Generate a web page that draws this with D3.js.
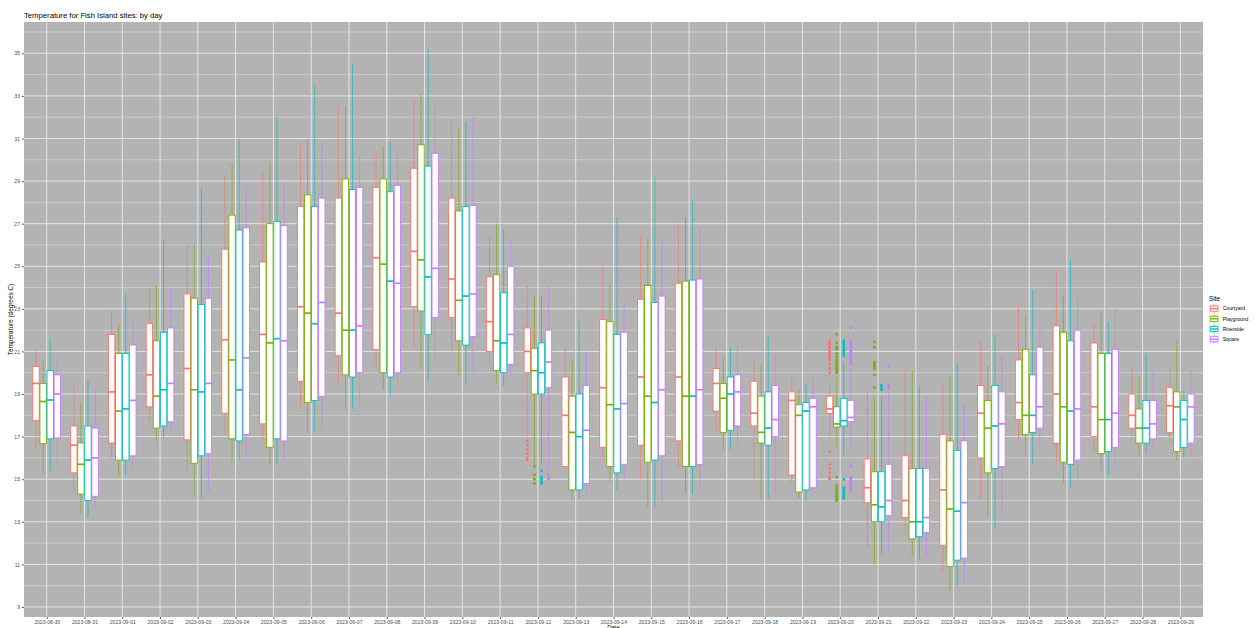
<!DOCTYPE html>
<html>
<head>
<meta charset="utf-8">
<script src="https://cdn.jsdelivr.net/npm/d3@7"></script>
<style>
  body { margin: 0; background: #fff; }
  svg { display: block; font-family: "Liberation Sans", Arial, sans-serif; }
</style>
</head>
<body>
<svg id="chart" width="1255" height="628"></svg>
<script>
/*************************************/
/*               Data                */
/*************************************/
const dates = [
  "2023-08-30", "2023-08-31", "2023-09-01", "2023-09-02", "2023-09-03", "2023-09-04",
  "2023-09-05", "2023-09-06", "2023-09-07", "2023-09-08", "2023-09-09", "2023-09-10",
  "2023-09-11", "2023-09-12", "2023-09-13", "2023-09-14", "2023-09-15", "2023-09-16",
  "2023-09-17", "2023-09-18", "2023-09-19", "2023-09-20", "2023-09-21", "2023-09-22",
  "2023-09-23", "2023-09-24", "2023-09-25", "2023-09-26", "2023-09-27", "2023-09-28",
  "2023-09-29"
];

const sites = ["Courtyard", "Playground", "Riverside", "Square"];
const siteColors = ["#F8766D", "#7CAE00", "#00BFC4", "#C77CFF"];

// [lower whisker, q1, median, q3, upper whisker] per date
const courtyard = [
  [16.4, 17.75, 19.5, 20.3, 21.1], [14.4, 15.3, 16.6, 17.5, 19.4], [16.0, 16.7, 19.1, 21.8, 22.9],
  [17.7, 18.4, 19.9, 22.3, 24.0], [15.4, 16.85, 20.2, 23.7, 26.0], [17.1, 18.1, 21.55, 25.8, 29.2],
  [16.8, 17.6, 21.8, 25.2, 29.5], [18.3, 19.6, 23.1, 27.8, 30.8], [19.4, 20.8, 22.8, 28.2, 32.5],
  [20.3, 21.1, 25.4, 28.7, 30.3], [21.2, 23.1, 25.7, 29.6, 32.8], [21.0, 22.6, 24.4, 28.2, 31.9],
  [20.4, 21.0, 22.4, 24.5, 26.4], [17.0, 20.0, 21.0, 22.1, 24.1], [15.3, 15.6, 18.0, 19.8, 21.2],
  [15.9, 16.5, 19.3, 22.5, 25.1], [15.0, 16.6, 19.8, 23.45, 26.5], [15.5, 16.8, 19.8, 24.2, 27.0],
  [17.3, 18.2, 19.5, 20.2, 21.2], [14.9, 17.5, 18.1, 19.6, 20.5], [14.8, 15.2, 18.7, 19.1, 19.8],
  [17.0, 18.1, 18.3, 18.9, 19.4], [11.8, 13.9, 14.6, 15.95, 19.1], [12.4, 13.2, 14.0, 16.1, 20.1],
  [10.7, 11.9, 14.5, 17.1, 19.5], [14.05, 16.0, 18.1, 19.4, 21.5], [16.8, 17.8, 18.6, 20.6, 23.1],
  [15.7, 16.7, 19.0, 22.2, 24.8], [16.3, 17.0, 18.4, 21.4, 22.3], [16.9, 17.4, 18.0, 19.0, 20.3],
  [16.7, 17.2, 18.45, 19.3, 20.3]
];

const playground = [
  [15.3, 16.67, 18.65, 19.5, 20.57], [13.4, 14.3, 15.7, 16.7, 18.6], [15.1, 15.9, 18.2, 20.9, 22.3],
  [16.8, 17.4, 18.9, 21.5, 24.1], [14.2, 15.75, 19.2, 23.5, 26.0], [15.8, 16.9, 20.6, 27.4, 29.8],
  [15.7, 16.5, 21.4, 27.0, 29.8], [17.2, 18.6, 22.8, 28.35, 30.9], [18.3, 19.9, 22.0, 29.1, 32.5],
  [19.2, 20.0, 25.1, 29.1, 30.6], [20.2, 22.9, 25.3, 30.7, 33.1], [19.9, 21.5, 23.4, 27.6, 31.5],
  [19.5, 20.1, 21.5, 24.6, 27.0], [15.7, 19.0, 20.1, 21.15, 23.6], [14.0, 14.5, 17.2, 18.9, 20.6],
  [14.9, 15.6, 18.5, 22.4, 24.2], [13.7, 15.8, 18.9, 24.1, 26.3], [14.3, 15.6, 18.9, 24.3, 27.3],
  [16.4, 17.2, 18.8, 19.5, 20.7], [14.1, 16.7, 17.2, 18.9, 20.4], [14.1, 14.4, 18.0, 18.5, 19.2],
  [16.5, 17.45, 17.6, 18.4, 19.8], [11.0, 13.0, 13.8, 15.35, 18.9], [11.3, 12.2, 13.0, 15.5, 20.1],
  [9.8, 10.9, 13.6, 16.8, 19.8], [13.2, 15.3, 17.4, 18.7, 20.3], [16.1, 17.1, 18.0, 21.1, 22.7],
  [14.8, 15.8, 18.4, 21.9, 23.6], [15.4, 16.2, 17.8, 20.9, 22.9], [16.1, 16.7, 17.4, 18.3, 19.8],
  [15.9, 16.3, 18.4, 19.1, 21.5]
];

const riverside = [
  [15.3, 16.9, 18.72, 20.1, 21.6], [13.2, 14.0, 15.9, 17.5, 19.7], [15.2, 15.9, 18.3, 20.9, 23.7],
  [16.9, 17.5, 19.2, 21.9, 26.2], [14.1, 16.1, 19.1, 23.2, 28.7], [15.9, 16.8, 19.2, 26.7, 31.0],
  [15.7, 16.9, 21.6, 27.1, 32.0], [17.2, 18.7, 22.3, 27.8, 33.5], [18.3, 19.8, 22.0, 28.6, 34.5],
  [18.9, 19.8, 24.3, 28.5, 30.85], [19.6, 21.8, 24.5, 29.7, 35.2], [19.5, 21.3, 23.6, 27.8, 31.8],
  [19.4, 20.0, 21.4, 23.75, 26.7], [15.7, 19.0, 20.0, 21.4, 23.6], [14.1, 14.5, 17.0, 19.0, 22.5],
  [14.5, 15.3, 18.3, 21.8, 27.3], [13.7, 15.9, 18.6, 23.3, 29.2], [14.3, 15.6, 18.9, 24.35, 28.1],
  [16.4, 17.3, 19.0, 19.8, 21.2], [14.1, 16.6, 17.4, 19.1, 21.7], [14.0, 14.5, 18.2, 18.6, 19.5],
  [16.1, 17.5, 17.75, 18.8, 20.5], [11.5, 13.0, 13.7, 15.35, 18.9], [11.2, 12.3, 13.0, 15.5, 19.4],
  [9.96, 11.2, 13.5, 16.35, 20.5], [12.7, 15.5, 17.5, 19.4, 21.8], [15.7, 17.2, 18.0, 19.9, 23.9],
  [14.6, 15.7, 18.2, 21.5, 25.3], [15.2, 16.3, 17.8, 20.9, 22.4], [16.2, 16.7, 17.4, 18.7, 20.9],
  [16.0, 16.5, 17.8, 18.7, 19.2]
];

const square = [
  [15.7, 16.94, 19.0, 19.9, 20.7], [13.6, 14.2, 16.0, 17.4, 19.2], [15.4, 16.1, 18.7, 21.3, 22.6],
  [17.1, 17.7, 19.5, 22.1, 24.0], [14.4, 16.2, 19.5, 23.5, 25.5], [16.1, 17.1, 20.7, 26.8, 28.8],
  [15.9, 16.8, 21.5, 26.9, 28.9], [17.4, 18.9, 23.3, 28.2, 30.8], [18.4, 20.0, 22.2, 28.7, 30.2],
  [19.4, 20.0, 24.2, 28.8, 30.5], [20.4, 22.6, 24.9, 30.3, 32.7], [20.0, 21.7, 23.7, 27.85, 32.0],
  [19.9, 20.4, 21.8, 25.0, 26.2], [15.5, 19.3, 20.5, 22.0, 24.1], [14.4, 14.8, 17.3, 19.4, 21.0],
  [15.0, 15.7, 18.55, 21.9, 23.4], [13.9, 16.1, 19.2, 23.6, 26.2], [14.5, 15.7, 19.2, 24.4, 26.8],
  [16.6, 17.5, 19.1, 19.9, 21.3], [14.4, 17.0, 17.8, 19.4, 20.8], [14.2, 14.6, 18.4, 18.8, 19.8],
  [16.6, 17.7, 17.9, 18.7, 20.2], [11.6, 13.3, 14.0, 15.7, 19.1], [11.4, 12.5, 13.2, 15.5, 18.9],
  [10.1, 11.3, 13.9, 16.8, 18.5], [13.4, 15.6, 17.6, 19.1, 20.8], [16.3, 17.4, 18.4, 21.2, 22.3],
  [14.9, 15.9, 18.3, 22.0, 23.5], [15.6, 16.5, 18.1, 21.1, 23.1], [16.5, 16.9, 17.6, 18.7, 20.1],
  [16.2, 16.7, 18.4, 19.0, 20.1]
];

const outliers = [
  { date: "2023-09-12", site: "Courtyard", values: [16.8, 16.6, 16.4, 16.2, 16.0, 15.9] },
  { date: "2023-09-12", site: "Playground", values: [15.6, 15.2, 15.0, 14.8] },
  { date: "2023-09-12", site: "Riverside", values: [15.4, 15.1, 15.0, 14.9, 14.8] },
  { date: "2023-09-12", site: "Square", values: [15.2, 15.1, 15.0] },
  { date: "2023-09-20", site: "Courtyard", values: [21.5, 21.4, 21.3, 21.2, 21.1, 21.0, 20.9, 20.8, 20.7, 20.6, 20.4, 20.2, 20.0, 16.3, 15.7, 15.5, 15.3, 15.1, 15.0] },
  { date: "2023-09-20", site: "Playground", values: [21.8, 21.4, 21.2, 21.1, 20.9, 20.75, 20.6, 20.5, 20.4, 20.3, 20.2, 20.1, 20.0, 15.1, 14.7, 14.6, 14.5, 14.4, 14.3, 14.2, 14.1, 14.0] },
  { date: "2023-09-20", site: "Riverside", values: [21.5, 21.4, 21.3, 21.2, 21.1, 21.0, 20.9, 20.8, 15.0, 14.6, 14.5, 14.4, 14.3, 14.2, 14.1] },
  { date: "2023-09-20", site: "Square", values: [22.1, 21.5, 21.4, 21.3, 21.2, 21.1, 21.0, 20.9, 20.8, 20.7, 20.6, 20.5, 20.4, 15.6, 15.1, 15.0, 14.9, 14.8, 14.7, 14.6, 14.5] },
  { date: "2023-09-21", site: "Playground", values: [21.45, 21.2, 20.5, 20.4, 20.3, 20.2, 19.9, 19.3] },
  { date: "2023-09-21", site: "Riverside", values: [19.4, 19.3, 19.2] },
  { date: "2023-09-21", site: "Square", values: [20.3, 19.4, 19.3] }
];

const yTicks = [9, 11, 13, 15, 17, 19, 21, 23, 25, 27, 29, 31, 33, 35];
const yMinorTicks = [10, 12, 14, 16, 18, 20, 22, 24, 26, 28, 30, 32, 34, 36];

/*************************************/
/*             Layout                */
/*************************************/
const panel = { left: 24, right: 1203, top: 22, bottom: 617 };

const boxData = sites.flatMap((site, si) =>
  [courtyard, playground, riverside, square][si].map((v, di) => ({
    site, si, date: dates[di],
    lo: v[0], q1: v[1], med: v[2], q3: v[3], hi: v[4]
  }))
);

const pointData = outliers.flatMap(o =>
  o.values.map(v => ({ date: o.date, si: sites.indexOf(o.site), value: v }))
);

const allValues = boxData.flatMap(d => [d.lo, d.hi]).concat(pointData.map(d => d.value));
const [vMin, vMax] = d3.extent(allValues);
const pad = (vMax - vMin) * 0.05;

const xScale = d3.scalePoint()
  .domain(dates)
  .range([panel.left, panel.right])
  .padding(0.6);

const yScale = d3.scaleLinear()
  .domain([vMin - pad, vMax + pad])
  .range([panel.bottom, panel.top]);

const step = xScale.step();
const slot = step * 0.75 / sites.length;
const boxW = slot * 0.9;
const xPos = (date, si) => xScale(date) + (si - (sites.length - 1) / 2) * slot;

const svg = d3.select("#chart");

/*************************************/
/*          Panel and grid           */
/*************************************/
svg.append("rect")
  .attr("x", panel.left)
  .attr("y", panel.top)
  .attr("width", panel.right - panel.left)
  .attr("height", panel.bottom - panel.top)
  .attr("fill", "#b3b3b3");

const grid = svg.append("g");

grid.selectAll(".minor")
  .data(yMinorTicks.filter(t => yScale(t) >= panel.top))
  .join("line")
    .attr("x1", panel.left).attr("x2", panel.right)
    .attr("y1", d => yScale(d)).attr("y2", d => yScale(d))
    .attr("stroke", "#cbcbcb")
    .attr("stroke-width", 1);

grid.selectAll(".major-y")
  .data(yTicks)
  .join("line")
    .attr("x1", panel.left).attr("x2", panel.right)
    .attr("y1", d => yScale(d)).attr("y2", d => yScale(d))
    .attr("stroke", "#e4e4e4")
    .attr("stroke-width", 1);

grid.selectAll(".major-x")
  .data(dates)
  .join("line")
    .attr("x1", d => xScale(d)).attr("x2", d => xScale(d))
    .attr("y1", panel.top).attr("y2", panel.bottom)
    .attr("stroke", "#e4e4e4")
    .attr("stroke-width", 1);

/*************************************/
/*             Boxplots              */
/*************************************/
const boxes = svg.append("g")
  .selectAll("g")
  .data(boxData)
  .join("g")
    .attr("stroke", d => siteColors[d.si]);

boxes.append("line")
  .attr("x1", d => xPos(d.date, d.si)).attr("x2", d => xPos(d.date, d.si))
  .attr("y1", d => yScale(d.hi)).attr("y2", d => yScale(d.q3))
  .attr("stroke-width", 0.9)
  .attr("stroke-opacity", 0.75);

boxes.append("line")
  .attr("x1", d => xPos(d.date, d.si)).attr("x2", d => xPos(d.date, d.si))
  .attr("y1", d => yScale(d.q1)).attr("y2", d => yScale(d.lo))
  .attr("stroke-width", 0.9)
  .attr("stroke-opacity", 0.75);

boxes.append("rect")
  .attr("x", d => xPos(d.date, d.si) - boxW / 2)
  .attr("y", d => yScale(d.q3))
  .attr("width", boxW)
  .attr("height", d => yScale(d.q1) - yScale(d.q3))
  .attr("fill", "white")
  .attr("stroke-width", 0.9);

boxes.append("line")
  .attr("x1", d => xPos(d.date, d.si) - boxW / 2)
  .attr("x2", d => xPos(d.date, d.si) + boxW / 2)
  .attr("y1", d => yScale(d.med)).attr("y2", d => yScale(d.med))
  .attr("stroke-width", 1.7);

svg.append("g")
  .selectAll("circle")
  .data(pointData)
  .join("circle")
    .attr("cx", d => xPos(d.date, d.si))
    .attr("cy", d => yScale(d.value))
    .attr("r", 1.4)
    .attr("fill", d => siteColors[d.si]);

/*************************************/
/*               Axes                */
/*************************************/
const styleAxis = g => {
  g.select(".domain").remove();
  g.selectAll(".tick line").attr("stroke", "#333333").attr("stroke-width", 0.8);
  g.selectAll(".tick text")
    .attr("fill", "#4d4d4d")
    .style("font-size", "5.1px")
    .style("font-family", "'Liberation Sans', Arial, sans-serif");
};

svg.append("g")
  .attr("transform", `translate(${panel.left}, 0)`)
  .call(d3.axisLeft(yScale).tickValues(yTicks).tickSize(2).tickPadding(2))
  .call(styleAxis);

svg.append("g")
  .attr("transform", `translate(0, ${panel.bottom})`)
  .call(d3.axisBottom(xScale).tickSize(2).tickPadding(1))
  .call(styleAxis);

/*************************************/
/*         Titles and labels         */
/*************************************/
svg.append("text")
  .attr("x", panel.left)
  .attr("y", 18.4)
  .attr("fill", "black")
  .style("font-size", "7.7px")
  .text("Temperature for Fish Island sites: by day");

svg.append("text")
  .attr("transform", `translate(12.6, ${(panel.top + panel.bottom) / 2}) rotate(-90)`)
  .attr("text-anchor", "middle")
  .attr("fill", "black")
  .style("font-size", "6.4px")
  .text("Temperature (degrees C)");

svg.append("text")
  .attr("x", (panel.left + panel.right) / 2)
  .attr("y", 628.5)
  .attr("text-anchor", "middle")
  .attr("fill", "black")
  .style("font-size", "6px")
  .text("Date");

/*************************************/
/*              Legend               */
/*************************************/
const legend = svg.append("g")
  .attr("transform", "translate(1209, 303.5)");

legend.append("text")
  .attr("x", 0)
  .attr("y", -3)
  .attr("fill", "black")
  .style("font-size", "6.4px")
  .text("Site");

const keySize = 10.2;

const keys = legend.selectAll(".key")
  .data(sites)
  .join("g")
    .attr("class", "key")
    .attr("transform", (_, i) => `translate(0, ${i * keySize})`);

keys.append("rect")
  .attr("width", keySize)
  .attr("height", keySize)
  .attr("fill", "#f2f2f2");

keys.append("line")
  .attr("x1", keySize / 2).attr("x2", keySize / 2)
  .attr("y1", keySize * 0.1).attr("y2", keySize * 0.9)
  .attr("stroke", (_, i) => siteColors[i])
  .attr("stroke-width", 0.9);

keys.append("rect")
  .attr("x", keySize * 0.125)
  .attr("y", keySize * 0.25)
  .attr("width", keySize * 0.75)
  .attr("height", keySize * 0.5)
  .attr("fill", "white")
  .attr("stroke", (_, i) => siteColors[i])
  .attr("stroke-width", 0.9);

keys.append("line")
  .attr("x1", keySize * 0.125).attr("x2", keySize * 0.875)
  .attr("y1", keySize / 2).attr("y2", keySize / 2)
  .attr("stroke", (_, i) => siteColors[i])
  .attr("stroke-width", 1.4);

keys.append("text")
  .attr("x", keySize + 3.5)
  .attr("y", keySize / 2)
  .attr("dy", "0.35em")
  .attr("fill", "black")
  .style("font-size", "5.1px")
  .text(d => d);
</script>
</body>
</html>
